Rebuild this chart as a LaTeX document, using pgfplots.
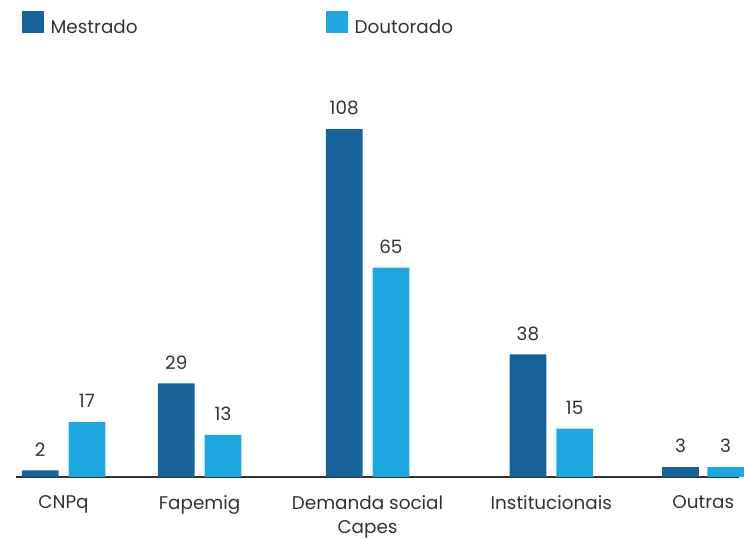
\documentclass[border=0pt]{standalone}
\usepackage{pgfplots}
\pgfplotsset{compat=1.18}
\usepackage{fontspec}
\setmainfont{Poppins}
\definecolor{mestrado}{HTML}{17649B}
\definecolor{doutorado}{HTML}{1EA6E0}
\definecolor{txt}{HTML}{333333}
\begin{document}
\begin{tikzpicture}
\begin{axis}[
    scale only axis,
    width=728pt, height=480pt,
    xmin=16, xmax=744,
    ymin=0, ymax=148.15,
    clip=false,
    axis x line*=bottom,
    axis y line=none,
    x axis line style={line width=1.6pt, color=txt, -},
    xtick={64,201,370,555,708},
    xticklabels={CNPq,Fapemig,{Demanda social\\Capes},Institucionais,Outras},
    major tick length=0pt,
    xticklabel style={font=\fontsize{18.5}{24}\selectfont, text=txt, inner sep=0pt, yshift=-19pt, align=center},
    ybar, bar width=37, bar shift=0pt,
    nodes near coords,
    /pgf/number format/assume math mode=true,
    every node near coord/.append style={font=\fontsize{18.5}{20}\selectfont, text=txt, inner sep=0pt, yshift=14pt},
    legend columns=2,
    legend style={at={(axis cs:22,144.75)}, anchor=north west, draw=none, fill=none,
        inner sep=0pt, outer sep=0pt, font=\fontsize{18.5}{20}\selectfont, text=txt,
        nodes={inner sep=0pt},
        /tikz/every odd column/.style={column sep=7pt}},
    legend image code/.code={\fill[#1] (0pt,-5pt) rectangle (22pt,17pt);},
]
\addplot[fill=mestrado, draw=none] coordinates {
    (40.5,2) (177.5,29) (346.5,108) (531.5,38) (685,3)
};
\addlegendentry{\makebox[277pt][l]{Mestrado}}
\addplot[fill=doutorado, draw=none] coordinates {
    (87.5,17) (224.5,13) (393.5,65) (578.5,15) (730.5,3)
};
\addlegendentry{Doutorado}
\end{axis}
\path[use as bounding box] (-16pt,-57pt) rectangle (728pt,480pt);
\end{tikzpicture}
\end{document}
